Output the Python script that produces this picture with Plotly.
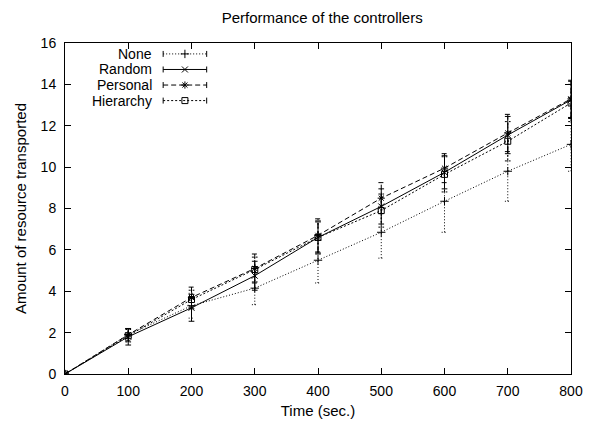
import plotly.graph_objects as go

time_s = [0, 100, 200, 300, 400, 500, 600, 700, 800]
series_names = ["None", "Random", "Personal", "Hierarchy"]
none_y = [0, 1.9, 3.3, 4.15, 5.5, 6.85, 8.35, 9.8, 11.1]
none_err = [0, 0.3, 0.6, 0.8, 1.1, 1.25, 1.5, 1.45, 1.3]
random_y = [0, 1.8, 3.2, 4.75, 6.6, 8.1, 9.75, 11.55, 13.25]
random_err = [0, 0.4, 0.65, 0.7, 0.8, 0.85, 0.8, 0.9, 0.9]
personal_y = [0, 1.9, 3.7, 5.1, 6.7, 8.5, 9.95, 11.65, 13.3]
personal_err = [0, 0.3, 0.5, 0.7, 0.8, 0.75, 0.7, 0.9, 0.9]
hierarchy_y = [0, 1.85, 3.6, 5.05, 6.6, 7.9, 9.65, 11.25, 13.1]
hierarchy_err = [0, 0.3, 0.45, 0.6, 0.75, 0.8, 0.85, 0.95, 0.9]
x_ticks = [0, 100, 200, 300, 400, 500, 600, 700, 800]
y_ticks = [0, 2, 4, 6, 8, 10, 12, 14, 16]

FONT = "Liberation Sans, Arial, sans-serif"
styles = {
    "None": dict(dash="1px,2px", symbol="cross-thin-open", color="#000000"),
    "Random": dict(dash="solid", symbol="x-thin-open", color="#000000"),
    "Personal": dict(dash="5px,3px", symbol="asterisk-open", color="#000000"),
    "Hierarchy": dict(dash="2px,2px", symbol="square-open", color="#000000"),
}
data = {
    "None": (none_y, none_err),
    "Random": (random_y, random_err),
    "Personal": (personal_y, personal_err),
    "Hierarchy": (hierarchy_y, hierarchy_err),
}

fig = go.Figure()
CAP = 4.5  # half cap width in data units of x

for name in series_names:
    ys, es = data[name]
    st = styles[name]
    ex, ey = [], []
    for x, y, e in zip(time_s, ys, es):
        if e <= 0:
            continue
        ex += [x, x, None, x - CAP, x + CAP, None, x - CAP, x + CAP, None]
        ey += [y - e, y + e, None, y - e, y - e, None, y + e, y + e, None]
    fig.add_trace(go.Scatter(x=ex, y=ey, mode="lines", showlegend=False,
                             line=dict(color=st["color"], width=1, dash=st["dash"]),
                             hoverinfo="skip"))
    fig.add_trace(go.Scatter(x=time_s, y=ys, mode="lines+markers", name=name, showlegend=False,
                             line=dict(color=st["color"], width=1, dash=st["dash"]),
                             marker=dict(symbol=st["symbol"], size=6, color=st["color"],
                                         line=dict(width=1, color=st["color"]))))

# manual gnuplot-style legend (text on the left, sample on the right)
leg_y = [0.967, 0.920, 0.873, 0.826]
lx0, lx1, lxm = 0.194, 0.280, 0.237
for name, yy in zip(series_names, leg_y):
    st = styles[name]
    fig.add_trace(go.Scatter(x=[lx0, lx1], y=[yy, yy], xaxis="x2", yaxis="y2", mode="lines",
                             showlegend=False, hoverinfo="skip",
                             line=dict(color="#000", width=1, dash=st["dash"])))
    fig.add_trace(go.Scatter(x=[lx0, lx0, None, lx1, lx1], y=[yy - 0.009, yy + 0.009, None, yy - 0.009, yy + 0.009],
                             xaxis="x2", yaxis="y2", mode="lines", showlegend=False, hoverinfo="skip",
                             line=dict(color="#000", width=1)))
    fig.add_trace(go.Scatter(x=[lxm], y=[yy], xaxis="x2", yaxis="y2", mode="markers",
                             showlegend=False, hoverinfo="skip",
                             marker=dict(symbol=st["symbol"], size=6, color="#000",
                                         line=dict(width=1, color="#000"))))
    fig.add_annotation(x=0.1765, y=yy, xref="paper", yref="paper", text=name, showarrow=False,
                       xanchor="right", yanchor="middle", font=dict(family=FONT, size=14, color="#000"))

fig.update_layout(
    width=594, height=424,
    margin=dict(l=53, r=31, t=35, b=58),
    paper_bgcolor="white", plot_bgcolor="white",
    font=dict(family=FONT, size=14, color="#000"),
    title=dict(text="Performance of the controllers", x=0.529, xanchor="center", y=0.977, yanchor="middle",
               font=dict(family=FONT, size=15, color="#000")),
    showlegend=False,
    xaxis=dict(range=[0, 800], tickvals=x_ticks, ticks="inside", ticklen=6, tickcolor="#000",
               showline=True, linecolor="#000", linewidth=1, mirror="ticks", showgrid=False,
               zeroline=False, ticklabelstandoff=4,
               title=dict(text="Time (sec.)", standoff=7, font=dict(size=15)),
               tickfont=dict(size=14)),
    yaxis=dict(range=[0, 16], tickvals=y_ticks, ticks="inside", ticklen=6, tickcolor="#000",
               showline=True, linecolor="#000", linewidth=1, mirror="ticks", showgrid=False,
               zeroline=False, ticklabelstandoff=5,
               title=dict(text="Amount of resource transported", standoff=10, font=dict(size=15)),
               tickfont=dict(size=14)),
    xaxis2=dict(overlaying="x", range=[0, 1], visible=False),
    yaxis2=dict(overlaying="y", range=[0, 1], visible=False),
)

fig.write_html("out.html")
